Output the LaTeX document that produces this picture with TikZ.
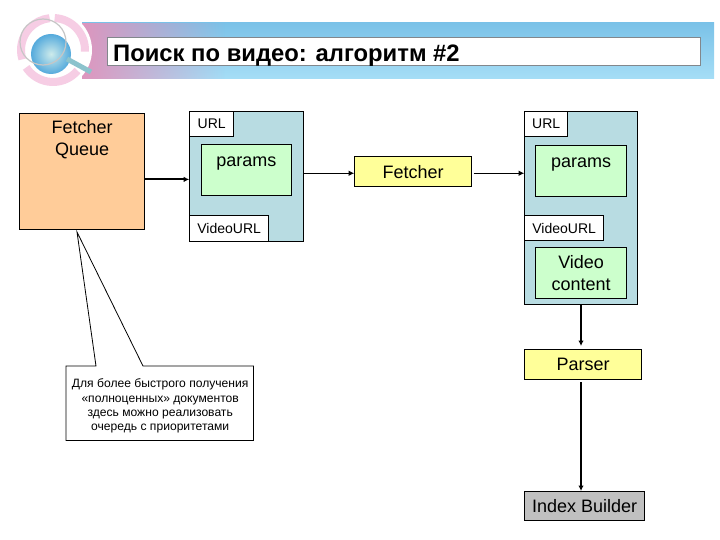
\documentclass[tikz,border=0pt]{standalone}
\usepackage{fontspec}
\setmainfont{Liberation Sans}
\usetikzlibrary{arrows.meta,fadings}
\tikzset{
  boxbase/.style={draw=black,line width=0.9pt,inner sep=0pt,align=center,font=\fontsize{18}{22}\selectfont},
  queuebox/.style={boxbase,fill=queueorange,anchor=north west},
  bluebox/.style={boxbase,fill=packetblue,anchor=north west},
  tagbox/.style={boxbase,fill=white,font=\fontsize{14}{16}\selectfont,anchor=north west},
  greenbox/.style={boxbase,fill=fieldgreen,anchor=north west},
  yellowbox/.style={boxbase,fill=stepyellow,anchor=north west},
  flow/.style={-{Latex[length=5.5pt,width=5.5pt]},line width=1pt},
}
\definecolor{queueorange}{RGB}{255,204,153}
\definecolor{packetblue}{RGB}{184,220,226}
\definecolor{fieldgreen}{RGB}{204,255,204}
\definecolor{stepyellow}{RGB}{255,255,153}
\definecolor{indexgrey}{RGB}{192,192,192}
\definecolor{ringpink}{RGB}{246,205,228}
\definecolor{bandpink}{RGB}{222,150,190}
\definecolor{bandtop}{RGB}{122,194,232}
\definecolor{bandbottom}{RGB}{166,222,246}
\definecolor{titlerule}{RGB}{130,135,140}
\definecolor{globein}{RGB}{205,235,235}
\definecolor{globeout}{RGB}{85,170,220}
\definecolor{handleblue}{RGB}{140,195,205}
\begin{document}
\begin{tikzpicture}[x=1pt,y=-1pt]
  \useasboundingbox (0,0) rectangle (720,540);
  % header band
  \shade[top color=bandtop,bottom color=bandbottom] (82,23) rectangle (714,79);
  \fill[bandpink,path fading=east] (82,23) rectangle (225,79);
  \node[draw=titlerule,fill=white,line width=0.8pt,inner sep=0pt,minimum width=592.5pt,minimum height=28.5pt,anchor=north west] (titlebox) at (107,37) {};
  \node[anchor=base west,inner sep=0pt,font=\fontsize{23.8}{28}\selectfont\bfseries] (title) at (113,61.5) {Поиск по видео: алгоритм \#2};
  % icon
  \fill[white] (53,50) circle[radius=39];
  \foreach \from/\to in {-87/3,40/147,163/264} {
    \draw[ringpink,line width=8pt] (53,50) ++(\from:32) arc[start angle=\from,end angle=\to,radius=32];
  }
  \shade[inner color=globein,outer color=globeout] (51,54) circle[radius=20];
  \draw[gray!45,line width=1.2pt] (43,42) circle[radius=23];
  \draw[handleblue,line width=5pt] (67,59) -- (91,72);

  % left column
  \node[queuebox,minimum width=125pt,minimum height=115.5pt] (queue) at (19.2,113.2) {Fetcher\\Queue\\[44pt]\mbox{}};
  \node[bluebox,minimum width=114pt,minimum height=129.5pt] (packeta) at (189.2,111.2) {};
  \node[tagbox,minimum width=44pt,minimum height=24.5pt] (urla) at (189.2,111.2) {URL};
  \node[greenbox,minimum width=90pt,minimum height=51pt,text height=13pt,text depth=21pt] (paramsa) at (201,144.2) {params};
  \node[tagbox,minimum width=79pt,minimum height=25.5pt] (videourla) at (189.2,215.2) {VideoURL};

  % middle
  \node[yellowbox,minimum width=117pt,minimum height=30pt] (fetcher) at (354.2,156.2) {Fetcher};

  % right column
  \node[bluebox,minimum width=113pt,minimum height=193pt] (packetb) at (524.2,111.2) {};
  \node[tagbox,minimum width=43pt,minimum height=25pt] (urlb) at (524.2,111.2) {URL};
  \node[greenbox,minimum width=91pt,minimum height=51pt,text height=13pt,text depth=21pt] (paramsb) at (535.2,145.2) {params};
  \node[tagbox,minimum width=79pt,minimum height=25pt] (videourlb) at (524.2,215.2) {VideoURL};
  \node[greenbox,minimum width=91pt,minimum height=51.5pt] (contentb) at (535.2,246.7) {Video\\content};
  \node[yellowbox,minimum width=117pt,minimum height=30pt] (parser) at (524.2,349) {Parser};
  \node[boxbase,fill=indexgrey,anchor=north west,minimum width=120pt,minimum height=29pt] (indexer) at (524.2,491) {Index Builder};

  % callout
  \node[inner sep=0pt,minimum width=187pt,minimum height=74pt,anchor=north west] (note) at (66,366) {};
  \coordinate (tip) at (77,232);
  \coordinate (tipl) at (96,366);
  \coordinate (tipr) at (143,366);
  \draw[fill=white,line width=0.8pt] (note.north west) -- (tipl) -- (tip) -- (tipr) -- (note.north east) -- (note.south east) -- (note.south west) -- cycle;
  \node[inner sep=0pt,align=center,font=\fontsize{12.1}{14.4}\selectfont] (notetext) at ([xshift=0.5pt,yshift=-3pt]note.center) {Для более быстрого получения\\«полноценных» документов\\здесь можно реализовать\\очередь с приоритетами};

  % connectors
  \draw[flow,line width=1.8pt] ([yshift=-8pt]queue.east) -- ([yshift=-8pt]queue.east -| packeta.west);
  \draw[flow] ([yshift=-1.6pt]packeta.east |- fetcher.west) -- ([yshift=-1.6pt]fetcher.west);
  \draw[flow,shorten <=1.5pt] ([yshift=-1.6pt]fetcher.east) -- ([yshift=-1.6pt]fetcher.east -| packetb.west);
  \draw[flow,line width=1.4pt,shorten >=3pt] (packetb.south -| 581,0) -- (parser.north -| 581,0);
  \draw[flow,line width=1.4pt,shorten <=2.5pt] (parser.south -| 581,0) -- (indexer.north -| 581,0);
\end{tikzpicture}
\end{document}
